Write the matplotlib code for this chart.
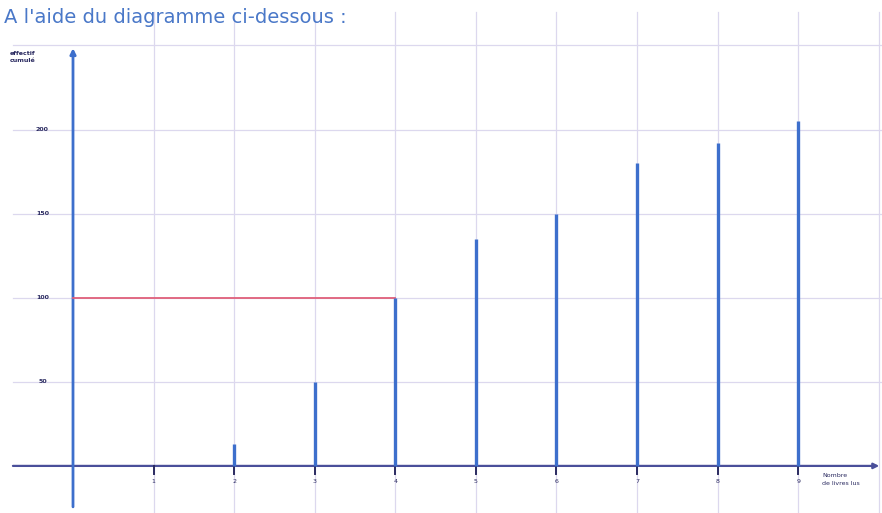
import matplotlib.pyplot as plt
import numpy as np

# data
livres = [0, 1, 2, 3, 4, 5, 6, 7, 8, 9]
eff_cumule = [0, 0, 13, 50, 100, 135, 150, 180, 192, 205]
y_ticks = [50, 100, 150, 200]
y_grid = [50, 100, 150, 200, 250]

blue = "#3d6fcc"
axis_col = "#4a4f9a"
grid_col = "#dcd8ee"

fig = plt.figure(figsize=(8.82, 5.13), dpi=100)
ax = fig.add_axes([0, 0, 1, 1])
ax.set_xlim(-0.906, 10.04)
ax.set_ylim(-28, 277)
ax.axis("off")

# grid
for g in y_grid:
    ax.plot([-0.75, 10.04], [g, g], color=grid_col, lw=0.9, zorder=1)
for v in livres[1:] + [10]:
    ax.plot([v, v], [-28, 270], color=grid_col, lw=0.9, zorder=1)

# axes with arrows
ax.annotate("", xy=(10.04, 0), xytext=(-0.78, 0),
            arrowprops=dict(arrowstyle="-|>", color=axis_col, lw=1.6,
                            mutation_scale=8), zorder=3)
ax.annotate("", xy=(0, 250), xytext=(0, -26),
            arrowprops=dict(arrowstyle="-|>", color=blue, lw=2.0,
                            mutation_scale=8), zorder=3)

# ticks on x axis
for v in livres[1:]:
    ax.plot([v, v], [0, -5], color="#2a2a60", lw=1.4, zorder=3)
    ax.text(v, -9, str(v), ha="center", va="center", fontsize=4.5,
            color="#2a2a60")
for t in y_ticks:
    ax.text(-0.38, t, str(t), ha="center", va="center", fontsize=4.5,
            color="#2a2a60", fontweight="bold")

# bars
ax.vlines(livres, 0, eff_cumule, colors=blue, lw=2.4, zorder=4)

# red reading line at 100
ax.plot([0, livres[4]], [eff_cumule[4], eff_cumule[4]], color="#e0607a",
        lw=1.3, zorder=3)

# axis labels
ax.text(-0.62, 243, "effectif\ncumulé", ha="center", va="center",
        fontsize=4.5, color="#2a2a60", fontweight="bold", linespacing=1.6)
ax.text(9.3, -8, "Nombre\nde livres lus", ha="left", va="center",
        fontsize=4.5, color="#2a2a60", linespacing=1.6)

fig.text(0.005, 0.985, "A l'aide du diagramme ci-dessous :", ha="left",
         va="top", fontsize=14, color="#4a78c8")

fig.savefig("out.png", dpi=100)
